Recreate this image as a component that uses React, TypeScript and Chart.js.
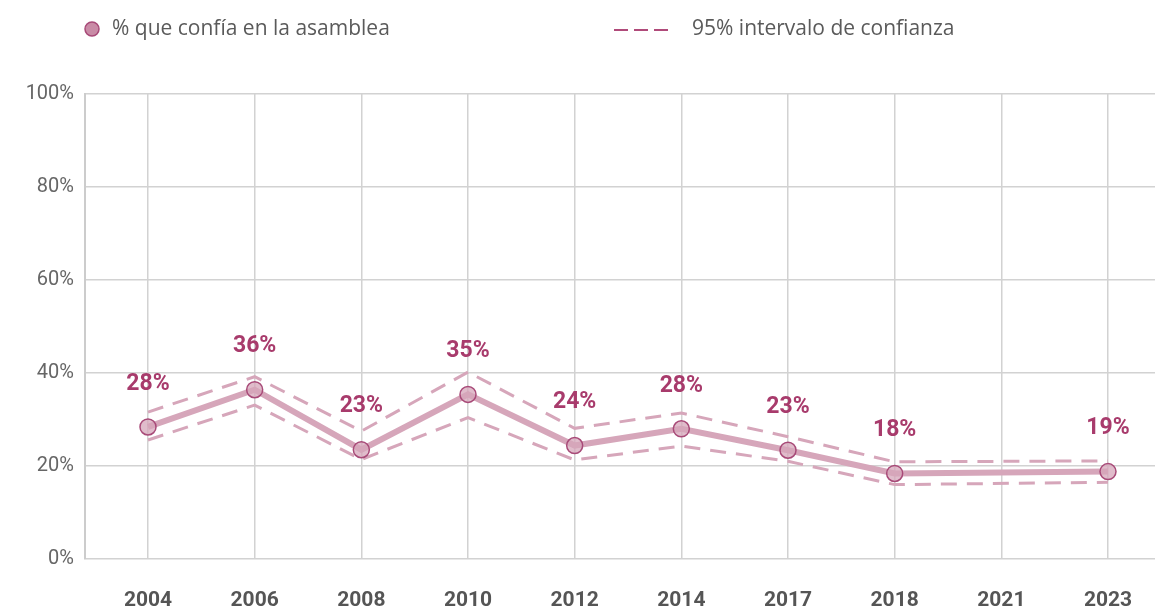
import React, { useEffect, useRef } from "react";
import { Chart, registerables } from "chart.js";

Chart.register(...registerables);

const years = ["2004", "2006", "2008", "2010", "2012", "2014", "2017", "2018", "2021", "2023"];
const trust: (number | null)[] = [28.4, 36.4, 23.5, 35.4, 24.4, 28.0, 23.4, 18.4, null, 18.8];
const upperCI: (number | null)[] = [31.6, 39.2, 27.5, 40.2, 28.1, 31.4, 26.3, 20.9, null, 21.1];
const lowerCI: (number | null)[] = [25.6, 33.1, 21.4, 30.4, 21.3, 24.3, 21.0, 16.0, null, 16.5];
const pointLabels = ["28%", "36%", "23%", "35%", "24%", "28%", "23%", "18%", "", "19%"];
const legendMain = "% que confía en la asamblea";
const legendCI = "95% intervalo de confianza";

const FONT = "Roboto, 'Noto Sans', sans-serif";
const LEGEND_FONT = "'Open Sans', Lato, sans-serif";
const LINE = "#d6a6ba";
const DARK = "#a83b6c";

const toXY = (arr: (number | null)[]) => arr.map((v, i) => ({ x: i, y: v }));

const labelPlugin = {
  id: "pointLabels",
  afterDatasetsDraw(chart: any) {
    const ctx = chart.ctx;
    const meta = chart.getDatasetMeta(0);
    ctx.save();
    ctx.font = `bold 23px ${FONT}`;
    ctx.fillStyle = DARK;
    ctx.textAlign = "center";
    ctx.textBaseline = "middle";
    meta.data.forEach((pt: any, i: number) => {
      if (trust[i] === null || !pointLabels[i]) return;
      ctx.fillText(pointLabels[i], pt.x, pt.y - 43);
    });
    ctx.restore();
  },
};

const legendPlugin = {
  id: "customLegend",
  afterDraw(chart: any) {
    const ctx = chart.ctx;
    ctx.save();
    ctx.beginPath();
    ctx.arc(92, 29, 7, 0, Math.PI * 2);
    ctx.fillStyle = "#c98ba6";
    ctx.fill();
    ctx.lineWidth = 1.5;
    ctx.strokeStyle = "#a84a78";
    ctx.stroke();
    ctx.font = `21px ${LEGEND_FONT}`;
    ctx.fillStyle = "#5a5a5a";
    ctx.textAlign = "left";
    ctx.textBaseline = "middle";
    ctx.fillText(legendMain, 112, 29);
    ctx.beginPath();
    ctx.setLineDash([14, 6]);
    ctx.moveTo(614, 30);
    ctx.lineTo(668, 30);
    ctx.lineWidth = 2;
    ctx.strokeStyle = "#b04a7a";
    ctx.stroke();
    ctx.setLineDash([]);
    ctx.fillText(legendCI, 692, 29);
    ctx.restore();
  },
};

export default function App() {
  const ref = useRef<HTMLCanvasElement | null>(null);

  useEffect(() => {
    if (!ref.current) return;
    const chart = new Chart(ref.current, {
      type: "line",
      data: {
        datasets: [
          {
            label: legendMain,
            data: toXY(trust) as any,
            borderColor: LINE,
            borderWidth: 6,
            pointRadius: 8,
            pointBackgroundColor: "rgba(214,166,186,0.75)",
            pointBorderColor: "#a84a78",
            pointBorderWidth: 1.5,
            spanGaps: true,
            tension: 0,
          },
          {
            label: "upper",
            data: toXY(upperCI) as any,
            borderColor: LINE,
            borderWidth: 3,
            borderDash: [16, 10],
            pointRadius: 0,
            spanGaps: true,
            tension: 0,
          },
          {
            label: "lower",
            data: toXY(lowerCI) as any,
            borderColor: LINE,
            borderWidth: 3,
            borderDash: [16, 10],
            pointRadius: 0,
            spanGaps: true,
            tension: 0,
          },
        ],
      },
      options: {
        responsive: false,
        animation: false,
        layout: { autoPadding: false, padding: { top: 94, right: 0, left: 0, bottom: 0 } },
        plugins: { legend: { display: false }, tooltip: { enabled: false } },
        scales: {
          x: {
            type: "linear",
            min: -0.5906,
            max: 9.4406,
            afterBuildTicks: (axis: any) => {
              axis.ticks = years.map((_, i) => ({ value: i }));
            },
            afterFit: (axis: any) => {
              axis.height = 48;
              axis.paddingLeft = 0;
              axis.paddingRight = 0;
            },
            ticks: {
              autoSkip: false,
              maxRotation: 0,
              padding: 29,
              color: "#555555",
              font: { family: FONT, size: 21, weight: "bold" },
              callback: (v: any) => years[v as number] ?? "",
            },
            grid: { color: "#d2d2d2", lineWidth: 1.5, drawTicks: false },
            border: { display: false },
          },
          y: {
            min: 0,
            max: 100,
            afterFit: (axis: any) => {
              axis.width = 85;
              axis.paddingTop = 0;
              axis.paddingBottom = 0;
            },
            ticks: {
              stepSize: 20,
              padding: 11,
              color: "#666666",
              font: { family: FONT, size: 20 },
              callback: (v: any) => `${v}%`,
            },
            grid: { color: "#d2d2d2", lineWidth: 1.5, drawTicks: false },
            border: { display: true, color: "#cccccc", width: 2 },
          },
        },
      },
      plugins: [labelPlugin, legendPlugin],
    });
    return () => chart.destroy();
  }, []);

  return (
    <div style={{ position: "absolute", left: 0, top: 0, width: 1155, height: 607, background: "#fff" }}>
      <canvas ref={ref} width={1155} height={607} />
    </div>
  );
}
